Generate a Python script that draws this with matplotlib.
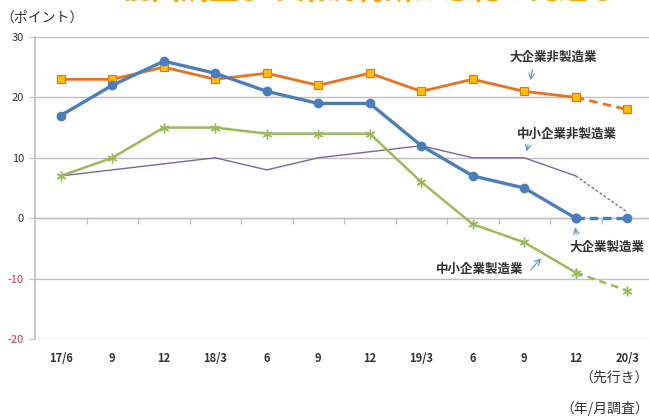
import matplotlib
matplotlib.use("Agg")
import matplotlib.pyplot as plt
import numpy as np

plt.rcParams["font.family"] = ["Noto Sans CJK JP", "DejaVu Sans"]

# survey months (year/month)
periods = ["17/6", "9", "12", "18/3", "6", "9", "12", "19/3", "6", "9", "12", "20/3"]

# DI values, last point is the forecast
large_mfg = [17, 22, 26, 24, 21, 19, 19, 12, 7, 5, 0, 0]
large_nonmfg = [23, 23, 25, 23, 24, 22, 24, 21, 23, 21, 20, 18]
small_mfg = [7, 10, 15, 15, 14, 14, 14, 6, -1, -4, -9, -12]
small_nonmfg = [7, 8, 9, 10, 8, 10, 11, 12, 10, 10, 7, 1]

y_ticks = [-20, -10, 0, 10, 20, 30]

BLUE = "#4A7EBB"
ORANGE = "#E8731F"
GREEN = "#9BBB59"
PURPLE = "#7F64A0"
GRID = "#BFBFBF"
TEXT = "#333333"
ARROW = "#5B8FD0"


def plot_series(ax, values, color, lw, dash, **marker_kw):
    x = np.arange(len(values))
    ax.plot(x[:-1], values[:-1], color=color, lw=lw, zorder=3, **marker_kw)
    ax.plot(x[-2:], values[-2:], color=color, lw=lw, ls=dash, zorder=3, **marker_kw)


fig = plt.figure(figsize=(6.49, 4.16), dpi=100)
ax = fig.add_axes([35 / 649, 1 - 339 / 416, 618 / 649, 302 / 416])

plot_series(ax, small_nonmfg, PURPLE, 1.0, (0, (2, 1.5)))
plot_series(ax, small_mfg, GREEN, 1.8, (0, (3, 2)),
            marker=(6, 2, 0), ms=7, mec=GREEN, mew=1.0)
plot_series(ax, large_nonmfg, ORANGE, 2.0, (0, (3, 2)),
            marker="s", ms=6, mfc="#FFC000", mec=ORANGE, mew=0.8)
plot_series(ax, large_mfg, BLUE, 2.4, (0, (2.5, 1.5)),
            marker="o", ms=6, mfc=BLUE, mec=BLUE)

ax.set_xlim(-0.5, len(periods) - 0.5)
ax.set_ylim(-20, 30)
ax.set_yticks(y_ticks)
ax.set_yticklabels([str(v) for v in y_ticks])
for lab, v in zip(ax.get_yticklabels(), y_ticks):
    lab.set_color("#E0304F" if v < 0 else TEXT)
ax.tick_params(axis="y", length=4, color=GRID, labelsize=8, pad=4)
ax.grid(axis="y", color=GRID, lw=1.0, zorder=0)

ax.set_xticks(np.arange(len(periods)))
ax.set_xticklabels(periods, fontsize=8, color=TEXT, fontweight="bold")
ax.tick_params(axis="x", length=0, pad=9)

for side in ["top", "right", "bottom"]:
    ax.spines[side].set_visible(False)
ax.spines["left"].set_color(GRID)
ax.spines["left"].set_linewidth(1.2)

# category axis crosses at zero
zero_axis = ax.secondary_xaxis((0 - (-20)) / 50)
zero_axis.set_xticks(np.arange(len(periods) - 1) + 0.5)
zero_axis.set_xticklabels([])
zero_axis.tick_params(length=4, color=GRID, width=1)
zero_axis.spines["bottom"].set_color(GRID)
zero_axis.spines["bottom"].set_linewidth(1.0)

labels = [
    ("大企業非製造業", (9.57, 26.7), (9.17, 25.0), (9.11, 22.4)),
    ("中小企業非製造業", (9.83, 13.9), (9.09, 12.6), (9.03, 10.6)),
    ("大企業製造業", (10.6, -4.8), (10.02, -3.1), (9.98, -1.1)),
    ("中小企業製造業", (8.14, -8.4), (9.09, -8.9), (9.36, -6.3)),
]
for text, pos, start, end in labels:
    ax.text(pos[0], pos[1], text, ha="center", va="center", fontsize=9,
            fontweight="bold", color=TEXT, zorder=5)
    ax.annotate("", xy=end, xytext=start,
                arrowprops=dict(arrowstyle="->", color=ARROW, lw=0.8))

fig.text(0, 1 - 18 / 416, "（ポイント）", fontsize=10, color=TEXT, va="center")
fig.text(1.0, 1 - 378 / 416, "（先行き）", fontsize=10, color=TEXT, va="center", ha="right")
fig.text(1.0, 1 - 408 / 416, "（年/月調査）", fontsize=10, color=TEXT, va="center", ha="right")
# headline above the chart, mostly cropped off in the source
fig.text(123 / 649, 1 - 5 / 416, "前回調査より業況判断は悪化の見通し", fontsize=21,
         fontweight="bold", color="#FFA000", va="bottom")

fig.savefig("out.png", dpi=100)
